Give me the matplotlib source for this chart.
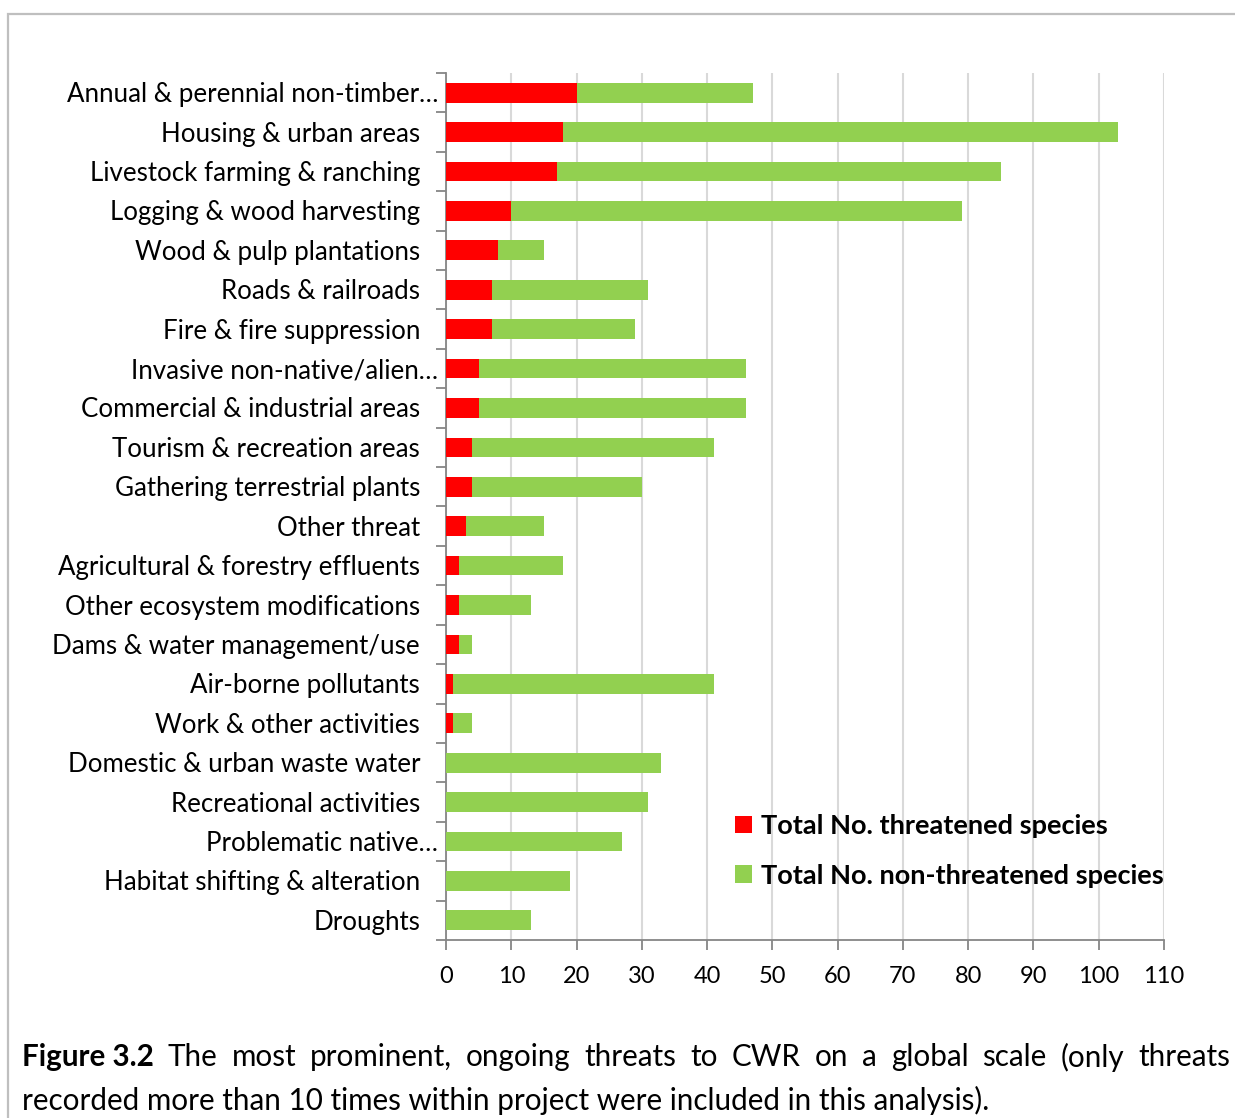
import matplotlib
matplotlib.use("Agg")
import matplotlib.pyplot as plt
from matplotlib.patches import Rectangle, Patch
import matplotlib.transforms as mtransforms
import numpy as np

categories = [
    "Annual & perennial non-timber…",
    "Housing & urban areas",
    "Livestock farming & ranching",
    "Logging & wood harvesting",
    "Wood & pulp plantations",
    "Roads & railroads",
    "Fire & fire suppression",
    "Invasive non-native/alien…",
    "Commercial & industrial areas",
    "Tourism & recreation areas",
    "Gathering terrestrial plants",
    "Other threat",
    "Agricultural & forestry effluents",
    "Other ecosystem modifications",
    "Dams & water management/use",
    "Air-borne pollutants",
    "Work & other activities",
    "Domestic & urban waste water",
    "Recreational activities",
    "Problematic native…",
    "Habitat shifting & alteration",
    "Droughts",
]
threatened = [20, 18, 17, 10, 8, 7, 7, 5, 5, 4, 4, 3, 2, 2, 2, 1, 1, 0, 0, 0, 0, 0]
non_threatened = [27, 85, 68, 69, 7, 24, 22, 41, 41, 37, 26, 12, 16, 11, 2, 40, 3, 33, 31, 27, 19, 13]
xticks = [0, 10, 20, 30, 40, 50, 60, 70, 80, 90, 100, 110]
legend_labels = ["Total No. threatened species", "Total No. non-threatened species"]

RED = "#FF0000"
GREEN = "#92D050"
FONT = ["Lato", "DejaVu Sans"]
plt.rcParams["font.family"] = FONT

W, H = 1235, 1118
fig = plt.figure(figsize=(W / 100, H / 100), dpi=100)

# outer chart border
fig.patches.append(Rectangle((8 / W, -0.1), 1.2, 1 - 14 / H + 0.1, transform=fig.transFigure,
                             fill=False, edgecolor="#BFBFBF", lw=1.6, zorder=0))

ax = fig.add_axes([446 / W, 1 - 940 / H, (1164 - 446) / W, (940 - 73) / H])
n = len(categories)
y = np.arange(n)
ax.barh(y, threatened, height=0.5, color=RED, zorder=3)
ax.barh(y, non_threatened, left=threatened, height=0.5, color=GREEN, zorder=3)

ax.set_ylim(n - 0.5, -0.5)
ax.set_xlim(0, 110)
ax.set_xticks(xticks)
ax.set_xticklabels([str(t) for t in xticks], fontsize=17)
ax.set_yticks(y)
ax.set_yticklabels([])
ax.set_yticks(np.arange(-0.5, n, 1), minor=True)
ax.tick_params(axis="y", which="major", length=0)
ax.tick_params(axis="y", which="minor", length=7, color="#868686", width=1.3, direction="out")
ax.tick_params(axis="x", which="major", length=7, color="#868686", width=1.3, direction="out", pad=12)
ax.grid(axis="x", color="#D9D9D9", lw=1.5, zorder=0)
for s in ["top", "right"]:
    ax.spines[s].set_visible(False)
for s in ["left", "bottom"]:
    ax.spines[s].set_color("#868686")
    ax.spines[s].set_linewidth(1.3)
ax.set_facecolor("none")

# category labels (truncated ones sit closer to the axis, as in the source)
base = mtransforms.blended_transform_factory(ax.transAxes, ax.transData)
for yi, lab in zip(y, categories):
    off = 8 if lab.endswith("…") else 26
    tr = base + mtransforms.ScaledTranslation(-off / 100, -2 / 100, fig.dpi_scale_trans)
    ax.text(0, yi, lab, transform=tr, ha="right", va="center", fontsize=18.6)

handles = [Patch(facecolor=RED), Patch(facecolor=GREEN)]
leg = fig.legend(handles, legend_labels, loc="upper left",
                 bbox_to_anchor=(724 / W, 1 - 803 / H), frameon=False,
                 prop={"family": FONT, "weight": "bold", "size": 19.5},
                 handlelength=0.62, handleheight=0.62, handletextpad=0.35,
                 labelspacing=0.95, borderaxespad=0)

# caption, justified first line
fig.canvas.draw()
r = fig.canvas.get_renderer()
line1 = ["The", "most", "prominent,", "ongoing", "threats", "to", "CWR", "on", "a", "global", "scale", "(only", "threats"]
x0, x1 = 22, 1230
y1 = 1 - 1057 / H
cap_size = 21.3
b = fig.text(x0 / W, y1, "Figure 3.2", fontsize=cap_size, weight="bold", va="center")
words = [b]
for wtxt in line1:
    words.append(fig.text(0, y1, wtxt, fontsize=cap_size, va="center"))
widths = [t.get_window_extent(r).width for t in words]
gap = (x1 - x0 - sum(widths)) / (len(words) - 1)
xp = x0
for t, wd in zip(words, widths):
    t.set_x(xp / W)
    xp += wd + gap
fig.text(x0 / W, 1 - 1100 / H,
         "recorded more than 10 times within project were included in this analysis).",
         fontsize=cap_size, va="center")

fig.savefig("out.png", dpi=100, facecolor="white")
